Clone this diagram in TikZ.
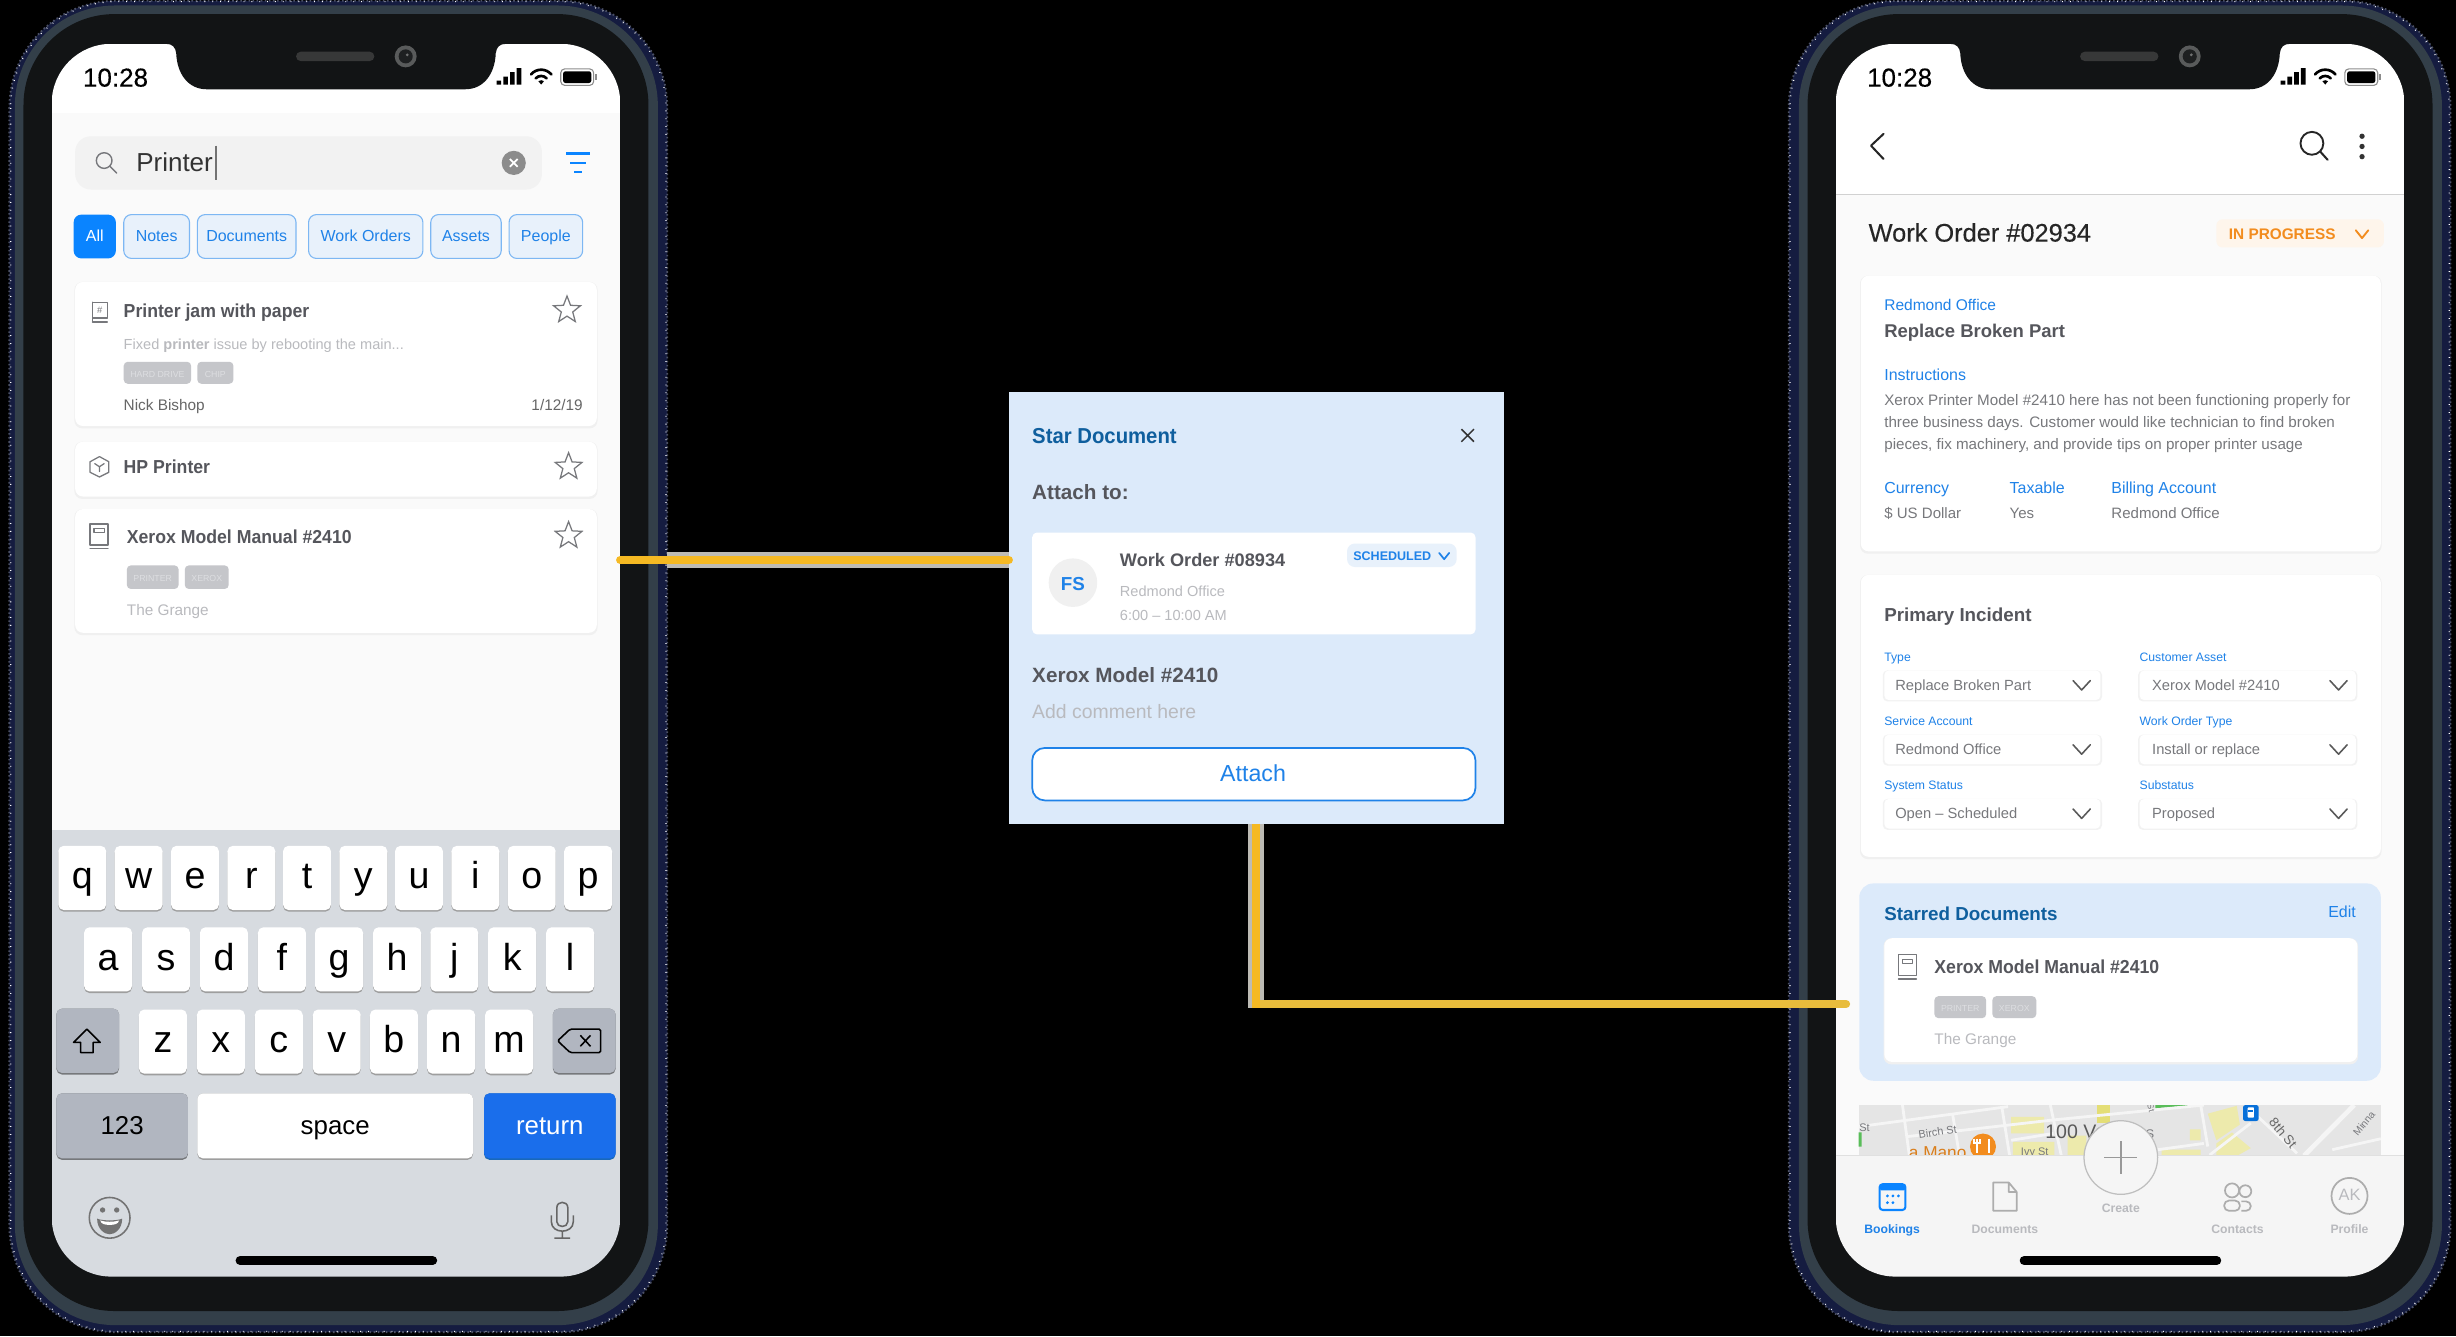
\documentclass[tikz,border=0pt]{standalone}
\usepackage{fontspec}
\setmainfont{Liberation Sans}
\usetikzlibrary{shapes.geometric}
\definecolor{bezel}{HTML}{121415}
\definecolor{rimc}{HTML}{333F49}
\definecolor{navyc}{HTML}{151C40}
\definecolor{blueA}{HTML}{0A84FF}
\definecolor{blueT}{HTML}{1F82E8}
\definecolor{chipF}{HTML}{E8F1FB}
\definecolor{chipS}{HTML}{7DB7F3}
\definecolor{titleG}{HTML}{55565C}
\definecolor{softG}{HTML}{B9BABE}
\definecolor{midG}{HTML}{77787C}
\definecolor{tagF}{HTML}{C5C6CA}
\definecolor{tagT}{HTML}{DDDEE1}
\definecolor{paleB}{HTML}{DCEAFA}
\definecolor{deepB}{HTML}{0F5F9E}
\definecolor{wireY}{HTML}{F5B923}
\definecolor{wireD}{HTML}{E8BC3C}
\definecolor{wireH}{HTML}{BDBBB4}
\definecolor{kbd}{HTML}{D7DBE0}
\definecolor{keyG}{HTML}{B1B6C0}
\definecolor{orangeT}{HTML}{F28C1E}
\tikzset{
  sz/.style={font=\fontsize{#1}{#1}\selectfont},
  bsz/.style={font=\fontsize{#1}{#1}\selectfont\bfseries},
  tsz/.style={font=\fontsize{#1}{#1}\selectfont\bfseries\addfontfeature{FakeStretch=.94}},
  msz/.style={font=\fontsize{#1}{#1}\selectfont\addfontfeature{FakeBold=.3}},
  txt/.style={inner sep=0pt,outer sep=0pt,anchor=mid west},
  ctr/.style={inner sep=0pt,outer sep=0pt,anchor=mid},
  rgt/.style={inner sep=0pt,outer sep=0pt,anchor=mid east},
  icon/.style={draw=#1,line width=.8pt,line cap=round,line join=round,fill=none},
  icon/.default={midG},
  halo/.style={draw=wireH,line width=10pt},
  wire/.style={draw=wireY,line width=5.4pt},
  starico/.style={star,star points=5,star point ratio=2.35,draw=#1,line width=.8pt,minimum size=18pt,inner sep=0pt},
  starico/.default={midG},
}
\newcounter{tn}
\newcommand\Rz[1]{\ifdim 1em<11pt\relax\raisebox{-.05em}{#1}\else\raisebox{-.16em}{#1}\fi}
\newcommand\T[4]{\stepcounter{tn}\node[txt,name=t\arabic{tn},#3] at (#1,#2) {\Rz{#4}};}
\newcommand\Star[2]{\stepcounter{tn}\node[starico,name=t\arabic{tn}] at (#1,#2) {};}
\newcommand\RR[6]{\fill[#6,rounded corners=#5pt] (#1,#2) rectangle (#3,#4);}
\newcommand\Card[4]{%
  \fill[black!6,rounded corners=5pt] (#1-.5,#2) rectangle (#3+.5,#4+1.5);
  \fill[white,rounded corners=5pt] (#1,#2) rectangle (#3,#4);}
\newcommand\Chev[6]{\draw[#5,line width=#6pt,line cap=round,line join=round] ({#1-#3},{#2-#4}) -- (#1,{#2+#4}) -- ({#1+#3},{#2-#4});}
\newcommand\Chip[3]{%
  \fill[chipF,draw=chipS,line width=.7pt,rounded corners=5pt] (#1,137) rectangle (#2,165);
  \stepcounter{tn}\node[ctr,name=t\arabic{tn},sz=10.2,text=blueT] at ({(#1+#2)/2},151) {\Rz{#3}};}
\newcommand\Tag[5]{%
  \fill[tagF,rounded corners=2.5pt] (#1,#2) rectangle (#3,#4);
  \stepcounter{tn}\node[ctr,name=t\arabic{tn},sz=5.6,text=tagT] at ({(#1+#3)/2},{(#2+#4)/2}) {\Rz{#5}};}
\newcommand\Key[3]{%
  \fill[black!38,rounded corners=3.5pt] ({#1-15.3},{#2+1}) rectangle ({#1+15.3},{#2+42});
  \fill[white,rounded corners=3.5pt] ({#1-15.3},#2) rectangle ({#1+15.3},{#2+41});
  \stepcounter{tn}\node[inner sep=0pt,anchor=base,name=t\arabic{tn},sz=24,text=black] at (#1,{#2+27.5}) {#3};}
\newcommand\Book[2]{% x y centre
  \draw[icon=midG] ({#1-6},{#2-7.5}) rectangle ({#1+5.5},{#2+6});
  \draw[icon=midG] ({#1-6},{#2+8}) -- ({#1+5.5},{#2+8});
  \draw[icon=midG] ({#1-3.5},{#2-4.5}) rectangle ({#1+3},{#2-2});}
\newcommand\Frame[3]{% dx, outer left, outer right
  \fill[navyc,rounded corners=68pt] (#2,0.5) rectangle (#3,850.5);
  \draw[black!25!navyc!75!white,dash pattern=on 1pt off 1.6pt,line width=1.2pt,rounded corners=68pt] (#2,0.5) rectangle (#3,850.5);
  \draw[white,dash pattern=on .5pt off 4.5pt,line width=.8pt,rounded corners=68pt] (#2+.8,1) rectangle (#3-.8,850);
  \begin{scope}[xshift=#1pt]
    \fill[rimc,rounded corners=64pt] (9.5,3.5) rectangle (420,846);
    \fill[bezel,rounded corners=58pt] (15,9) rectangle (414,837);
  \end{scope}}
\newcommand\Top[2]{%
  \begin{scope}[xshift=#1pt]
    \fill[bezel] (106,24) -- (106,28) .. controls (110,28) and (112,30) .. (112.5,34) .. controls (113,47) and (120,57) .. (132,57) -- (297,57) .. controls (309,57) and (316,47) .. (316.5,34) .. controls (317,30) and (319,28) .. (323,28) -- (323,24) -- cycle;
    \fill[black!72!bezel!80!white,rounded corners=3pt] (189,33) rectangle (239,39);
    \fill[bezel!70!white] (259,36) circle (7pt);
    \fill[bezel!95!white] (259,36) circle (4.5pt);
    \fill[bezel!60!white] (260,35) circle (1pt);
    \T{53}{50}{msz=16.6,text=#2}{10:28}
    \fill[#2] (317,51.5) rectangle (320,54) (321.3,49) rectangle (324.3,54) (325.6,46) rectangle (328.6,54) (329.9,43.5) rectangle (332.9,54);
    \draw[#2,line width=1.7pt,line cap=round] (339,47.5) .. controls (342.5,43.5) and (348.5,43.5) .. (352,47.5);
    \draw[#2,line width=1.7pt,line cap=round] (342,50) .. controls (344,48) and (347,48) .. (349,50);
    \fill[#2] (345.5,54) -- (343.7,51.8) .. controls (345,51) and (346,51) .. (347.3,51.8) -- cycle;
    \draw[#2!45!white,line width=.7pt,rounded corners=2.5pt] (358,44) rectangle (379,54.5);
    \fill[#2,rounded corners=1.5pt] (359.5,45.5) rectangle (377.5,53);
    \fill[#2!45!white] (380,47.5) rectangle (381.2,51);
    \fill[black,rounded corners=2.5pt] (150.5,802) rectangle (279,807.5);
  \end{scope}}
\begin{document}
\begin{tikzpicture}[x=1pt,y=-1pt]
\useasboundingbox (0,0) rectangle (1568,853);
\fill[black] (0,0) rectangle (1568,853);
%% ---------- frames
\Frame{0}{6}{426}
\Frame{1139}{1142}{1564.5}
%% ---------- named reference nodes
\node[minimum width=363pt,minimum height=787pt,inner sep=0pt,outer sep=0pt] (lscreen) at (214.5,421.5) {};
\node[minimum width=363pt,minimum height=787pt,inner sep=0pt,outer sep=0pt] (rscreen) at (1353.5,421.5) {};
%% ---------- left screen
\begin{scope}
\clip[rounded corners=38pt] (33,28) rectangle (396,815);
\fill[white] (33,28) rectangle (396,72);
\fill[black!2] (33,72) rectangle (396,530);
\fill[kbd] (33,530) rectangle (396,815);
\end{scope}
\RR{48}{87}{346}{121}{10}{black!5}
\draw[icon=midG,line width=.9pt] (66.5,102.5) circle (5pt);
\draw[icon=midG,line width=.9pt] (70.2,106.2) -- (74.5,110.5);
\T{87}{104}{sz=16.6,text=black!80}{Printer}
\draw[black!55,line width=1.1pt] (138,93) -- (138,115);
\fill[black!45] (328,104) circle (7.7pt);
\draw[white,line width=1.1pt] (325.5,101.5) -- (330.5,106.5) (325.5,106.5) -- (330.5,101.5);
\draw[blueA,line width=1.5pt] (361.5,98) -- (376.5,98) (364,104) -- (374,104) (366.5,110) -- (371.5,110);
\fill[blueA,rounded corners=5pt] (47,137) rectangle (74,165);
\T{60.5}{151}{ctr,sz=10.2,text=white}{All}
\Chip{79}{121}{Notes}
\Chip{126}{189}{Documents}
\Chip{197}{270}{Work Orders}
\Chip{275}{320}{Assets}
\Chip{325}{372}{People}
% result cards
\Card{48}{180}{381}{272}
\draw[icon=midG] (59,193) rectangle (68.5,203) (59,205.5) -- (68.5,205.5) (59,193) -- (59,205.5);
\T{63.7}{197.5}{ctr,sz=6,text=midG}{\#}
\T{79}{198}{tsz=12,text=titleG}{Printer jam with paper}
\Star{362}{198}
\T{79}{220}{sz=9.3,text=softG}{Fixed {\bfseries printer} issue by rebooting the main...}
\Tag{79}{231}{122}{245}{HARD DRIVE}
\Tag{126}{231}{149}{245}{CHIP}
\T{79}{259}{sz=9.8,text=black!60}{Nick Bishop}
\T{372}{259}{rgt,sz=9.8,text=black!60}{1/12/19}
\Card{48}{282}{381}{317}
\draw[icon=midG] (63.5,291.5) -- (69.5,294.8) -- (69.5,301.5) -- (63.5,304.5) -- (57.5,301.5) -- (57.5,294.8) -- cycle;
\draw[icon=midG] (60.5,296) -- (63.5,298) -- (66.5,296) (63.5,298) -- (63.5,301);
\T{79}{298}{tsz=12,text=titleG}{HP Printer}
\Star{363}{298}
\Card{48}{325}{381}{404}
\Book{63.5}{342}
\T{81}{342.5}{tsz=12,text=titleG}{Xerox Model Manual \#2410}
\Star{363}{342}
\Tag{81}{361}{114}{376}{PRINTER}
\Tag{118}{361}{146}{376}{XEROX}
\T{81}{390}{sz=9.8,text=softG}{The Grange}
% keyboard
\foreach \c/\l in {52.5/q,88.5/w,124.5/e,160.5/r,196/t,232/y,267.5/u,303.5/i,339.5/o,375.5/p}{\Key{\c}{540}{\l}}
\foreach \c/\l in {69/a,106/s,143/d,180/f,216.5/g,253.5/h,290/j,327/k,364/l}{\Key{\c}{592}{\l}}
\foreach \c/\l in {104/z,141/x,178/c,215/v,251.5/b,288/n,325/m}{\Key{\c}{644.5}{\l}}
\RR{36}{644}{76}{686}{3.5}{black!45!kbd}
\RR{36}{644}{76}{685}{3.5}{keyG}
\RR{353}{644}{393}{686}{3.5}{black!45!kbd}
\RR{353}{644}{393}{685}{3.5}{keyG}
\draw[black,line width=1pt,line join=round] (55.5,657) -- (64,665.5) -- (59.5,665.5) -- (59.5,672) -- (51.5,672) -- (51.5,665.5) -- (47,665.5) -- cycle;
\draw[black,line width=1pt,line join=round,rounded corners=1pt] (364,657) -- (383.5,657) -- (383.5,672) -- (364,672) -- (356,664.5) -- cycle;
\draw[black,line width=1pt] (370.5,661) -- (377,668) (377,661) -- (370.5,668);
\RR{36}{698}{120}{740.5}{3.5}{black!45!kbd}
\RR{36}{698}{120}{739.5}{3.5}{keyG}
\T{78}{719}{ctr,sz=16.5,text=black}{123}
\RR{126}{698}{302}{740.5}{3.5}{black!38}
\RR{126}{698}{302}{739.5}{3.5}{white}
\T{214}{719}{ctr,sz=16.5,text=black}{space}
\RR{309}{698}{393}{740.5}{3.5}{black!20!blueT}
\RR{309}{698}{393}{739.5}{3.5}{blueT!85!blue}
\T{351}{719}{ctr,sz=16.5,text=white}{return}
\draw[black!55,line width=1pt] (70,777.5) circle (13pt);
\fill[black!55] (65.5,772.5) circle (1.7pt) (74.5,772.5) circle (1.7pt);
\fill[black!55] (62,778) .. controls (65,779.5) and (75,779.5) .. (78,778) .. controls (78,785) and (73,788) .. (70,788) .. controls (67,788) and (62,785) .. (62,778) -- cycle;
\fill[white] (64,779.2) .. controls (67,780.3) and (73,780.3) .. (76,779.2) .. controls (75.5,781.5) and (73,782) .. (70,782) .. controls (67,782) and (64.5,781.5) .. (64,779.2) -- cycle;
\draw[black!60,line width=1pt] (355.5,771) -- (355.5,780) .. controls (355.5,784) and (362.5,784) .. (362.5,780) -- (362.5,771) .. controls (362.5,766.5) and (355.5,766.5) .. (355.5,771) -- cycle;
\draw[black!60,line width=1pt] (352,776) -- (352,780) .. controls (352,788) and (366,788) .. (366,780) -- (366,776) (359,786) -- (359,790) (354,790.5) -- (364,790.5);
\Top{0}{black}
%% ---------- centre panel
\node[minimum width=316pt,minimum height=276pt,inner sep=0pt,outer sep=0pt,fill=paleB] (panel) at (802,388) {};
\T{659}{278.5}{tsz=13.8,text=deepB}{Star Document}
\draw[black!80,line width=1pt] (933,274) -- (941,282) (941,274) -- (933,282);
\T{659}{314}{bsz=13.2,text=titleG}{Attach to:}
\RR{659}{340}{942}{405}{3}{white}
\fill[black!6] (685,372) circle (15.5pt);
\T{685}{372.5}{ctr,bsz=12,text=blueT}{FS}
\T{715}{357}{bsz=11.6,text=titleG}{Work Order \#08934}
\RR{860}{347}{930}{362}{5}{chipF}
\T{864}{354.7}{bsz=8,text=blueT}{SCHEDULED}
\Chev{922}{355}{3.2}{2}{blueT}{1.1}
\T{715}{378}{sz=9.3,text=softG}{Redmond Office}
\T{715}{393}{sz=9.3,text=softG}{6:00 – 10:00 AM}
\T{659}{431}{bsz=13.2,text=titleG}{Xerox Model \#2410}
\T{659}{454}{sz=12.4,text=softG}{Add comment here}
\fill[white,draw=blueT,line width=1.1pt,rounded corners=8pt] (659,477.5) rectangle (942,511);
\T{800}{494}{ctr,sz=14.8,text=blueT}{Attach}
%% ---------- right screen
\begin{scope}
\clip[rounded corners=38pt] (1172,28) rectangle (1535,815);
\fill[white] (1172,28) rectangle (1535,124);
\fill[black!2] (1172,124) rectangle (1535,738);
\begin{scope}
\clip (1186.6,705.5) rectangle (1520,738);
\fill[black!10] (1186.6,705.5) rectangle (1520,738);
\fill[yellow!30!white!92!black] (1284,713) rectangle (1305,723.6) (1285,729) rectangle (1311.5,738) (1320,725) rectangle (1332,738) (1409.5,711) -- (1428,706) -- (1430,718) -- (1415,728) -- cycle (1380,734) rectangle (1405,738) (1398,721) rectangle (1405,728) (1415,730) -- (1425,723) -- (1437,733) -- (1428,738) -- (1415,738) -- cycle;
\fill[yellow!55!white!88!black] (1339,705.5) rectangle (1347,717);
\fill[green!60!black!65!white] (1376,707.5) -- (1402,705.5) -- (1376,705.5) -- cycle (1186.6,723) rectangle (1188.5,732);
\draw[white!96!black,line width=1.8pt] (1186.6,719.3) -- (1282,706.5) (1214.6,705.5) -- (1219,737.8) (1246.5,710.8) -- (1251,737.8) (1278,706.5) -- (1283,737.8) (1309,705.5) -- (1316,737.8) (1217,725.7) -- (1311,715) -- (1407,705.5) (1284,728) -- (1311,723.6) (1377.6,734) -- (1407,730) (1405,705.5) -- (1409.5,732) (1410.7,737.4) -- (1437,717) (1437,708.7) -- (1466.5,736.3) (1489,734) -- (1520,727);
\draw[white!96!black,line width=3pt] (1471,737.8) -- (1503,705.5);
\fill[orangeT] (1266,732) circle (8.3pt);
\draw[white,line width=1.2pt] (1262,727) -- (1262,736) (1270,727) -- (1270,736) (1260,727) -- (1260,730) -- (1264,730) -- (1264,727);
\T{1218.7}{735.5}{sz=11,text=orangeT!90!black}{a Mano}
\stepcounter{tn}\node[ctr,name=t\arabic{tn},sz=7,text=midG,rotate=8] at (1237,722.5) {Birch St};
\T{1187}{719.3}{sz=7,text=midG}{St}
\T{1299}{735}{ctr,sz=7,text=midG}{Ivy St}
\T{1305.8}{722.5}{sz=12.5,text=black!65}{100 Va}
\T{1372.6}{723.6}{ctr,sz=8,text=midG}{S}
\stepcounter{tn}\node[ctr,name=t\arabic{tn},sz=8.5,text=black!60,rotate=-50] at (1457.4,723.6) {8th St};
\stepcounter{tn}\node[ctr,name=t\arabic{tn},sz=6.5,text=midG,rotate=50] at (1509,717) {Minna};
\stepcounter{tn}\node[ctr,name=t\arabic{tn},sz=5.5,text=midG,rotate=-75] at (1374,707) {St};
\fill[blueA!85!black,rounded corners=1.5pt] (1432,705.5) rectangle (1442,715.7);
\fill[white,rounded corners=.5pt] (1435,707) rectangle (1439,713.5);
\fill[blueA!85!black] (1435.5,708.5) rectangle (1438.5,710);
\end{scope}
\fill[black!4] (1172,738) rectangle (1535,815);
\draw[black!12,line width=.6pt] (1172,738) -- (1535,738);
\end{scope}
\draw[black!85,line width=1.3pt,line cap=round,line join=round] (1202.5,85.5) -- (1194.5,93) -- (1202.5,101.5);
\draw[black!85,line width=1.2pt] (1476,91.5) circle (7.3pt);
\draw[black!85,line width=1.3pt,line cap=round] (1481.5,97) -- (1486,102);
\fill[black!80] (1508,87) circle (1.7pt) (1508,93.5) circle (1.7pt) (1508,100) circle (1.7pt);
\draw[black!18,line width=.8pt] (1172,124) -- (1535,124);
\T{1193}{149}{msz=16.2,text=black!85}{Work Order \#02934}
\RR{1415}{140}{1522}{158}{4}{orangeT!9}
\T{1423}{149.5}{bsz=9.8,text=orangeT}{IN PROGRESS}
\Chev{1508}{149.5}{4}{2.5}{orangeT}{1.2}
\Card{1188}{176}{1520}{352}
\T{1203}{195}{sz=9.9,text=blueT}{Redmond Office}
\T{1203}{211}{bsz=11.8,text=titleG}{Replace Broken Part}
\T{1203}{240}{sz=10.2,text=blueT}{Instructions}
\T{1203}{256}{sz=9.7,text=midG}{Xerox Printer Model \#2410 here has not been functioning properly for}
\T{1203}{270}{sz=9.7,text=midG}{three business days. Customer would like technician to find broken}
\T{1203}{284}{sz=9.7,text=midG}{pieces, fix machinery, and provide tips on proper printer usage}
\T{1203}{312}{sz=10.2,text=blueT}{Currency}
\T{1283}{312}{sz=10.2,text=blueT}{Taxable}
\T{1348}{312}{sz=10.2,text=blueT}{Billing Account}
\T{1203}{328}{sz=9.6,text=midG}{\$ US Dollar}
\T{1283}{328}{sz=9.6,text=midG}{Yes}
\T{1348}{328}{sz=9.6,text=midG}{Redmond Office}
\Card{1188}{367}{1520}{547}
\T{1203}{392}{bsz=12,text=titleG}{Primary Incident}
\foreach \lab/\ly/\val/\lb/\vb in {Type/419/Replace Broken Part/Customer Asset/Xerox Model \#2410,Service Account/460/Redmond Office/Work Order Type/Install or replace,System Status/501/Open – Scheduled/Substatus/Proposed}{
  \T{1203}{\ly}{sz=7.8,text=blueT}{\lab}
  \T{1366}{\ly}{sz=7.8,text=blueT}{\lb}
  \pgfmathsetmacro\boxt{\ly+9}\pgfmathsetmacro\boxb{\ly+28}\pgfmathsetmacro\mid{\ly+18.5}
  \fill[black!5,rounded corners=3pt] (1202,\boxt) rectangle (1342,\boxb+.8);
  \fill[white,rounded corners=3pt] (1203,\boxt) rectangle (1341,\boxb);
  \fill[black!5,rounded corners=3pt] (1365,\boxt) rectangle (1505,\boxb+.8);
  \fill[white,rounded corners=3pt] (1366,\boxt) rectangle (1504,\boxb);
  \T{1210}{\mid}{sz=9.4,text=midG}{\val}
  \T{1374}{\mid}{sz=9.4,text=midG}{\vb}
  \Chev{1329}{\mid}{5.5}{3}{black!65}{1}
  \Chev{1493}{\mid}{5.5}{3}{black!65}{1}
}
\RR{1187}{564}{1520}{690}{9}{paleB}
\T{1203}{583}{bsz=12,text=deepB}{Starred Documents}
\T{1504}{582.5}{rgt,sz=10.2,text=blueT}{Edit}
\Card{1203}{599}{1505}{678}
\Book{1218}{617}
\T{1235}{617}{tsz=12,text=titleG}{Xerox Model Manual \#2410}
\Tag{1235}{636}{1268}{650}{PRINTER}
\Tag{1272}{636}{1300}{650}{XEROX}
\T{1235}{664}{sz=9.8,text=softG}{The Grange}
% tab bar
\fill[black!4,draw=black!25,line width=.8pt] (1354,739) circle (23.5pt);
\draw[black!40,line width=1.2pt] (1343.5,739) -- (1364.5,739) (1354,728.5) -- (1354,749.5);
\T{1354}{771}{ctr,bsz=7.8,text=softG}{Create}
\draw[blueA,line width=1.3pt,rounded corners=2pt] (1200,756) rectangle (1216.5,772.5);
\fill[blueA,rounded corners=1pt] (1200,756) rectangle (1216.5,760);
\fill[blueA] (1205,763.5) circle (1pt) (1208.5,763.5) circle (1pt) (1212,763.5) circle (1pt) (1205,767.8) circle (1pt) (1208.5,767.8) circle (1pt);
\T{1208}{784.5}{ctr,bsz=7.8,text=blueT}{Bookings}
\draw[black!32,line width=1.1pt,line join=round] (1272.5,755) -- (1282.5,755) -- (1287.5,761) -- (1287.5,773) -- (1272.5,773) -- cycle (1282.5,755) -- (1282.5,761) -- (1287.5,761);
\T{1280}{784.5}{ctr,bsz=7.8,text=softG}{Documents}
\draw[black!32,line width=1.1pt] (1425,760) circle (4.5pt) (1433.5,760.5) circle (3.8pt);
\draw[black!32,line width=1.1pt,rounded corners=3pt] (1420,766.5) rectangle (1430,773) (1431,767) -- (1437,767) -- (1437,773) -- (1431,773);
\T{1428.5}{784.5}{ctr,bsz=7.8,text=softG}{Contacts}
\draw[black!32,line width=1.1pt] (1500,763.5) circle (11.5pt);
\T{1500}{763.5}{ctr,sz=10.5,text=softG}{AK}
\T{1500}{784.5}{ctr,bsz=7.8,text=softG}{Profile}
\Top{1139}{black}
%% ---------- connectors
\coordinate (lrim) at (426,357.5);
\coordinate (rend) at (1178.5,641);
\coordinate (lend) at (lscreen.east |- lrim);
\coordinate (pin) at (panel.west |- lrim);
\coordinate (corner) at (panel.south |- rend);
\draw[halo] (lrim) -- (pin);
\draw[wire,line cap=round] (lend) -- (pin);
\draw[halo,shorten >=-2.7pt] (panel.south) -- (corner);
\draw[wire,draw=wireD,line cap=round] (corner) -- (rend);
\draw[wire,shorten >=-2.7pt] (panel.south) -- (corner);
\end{tikzpicture}
\end{document}
